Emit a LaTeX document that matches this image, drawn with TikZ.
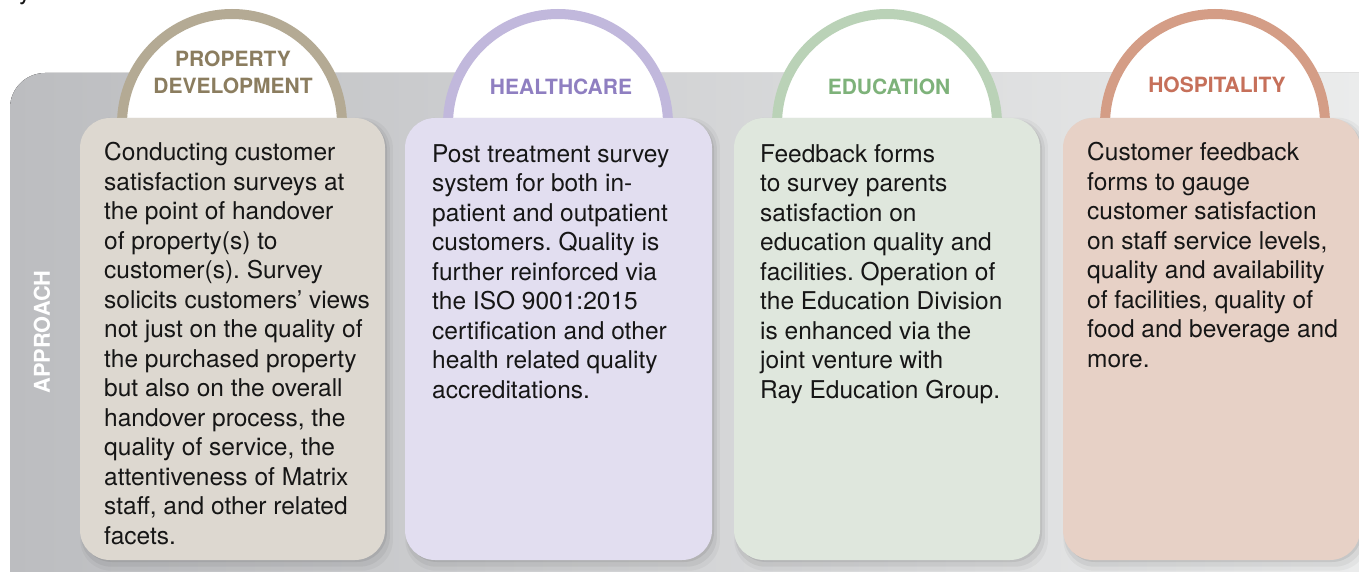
\documentclass[tikz,border=0pt]{standalone}
\usepackage{fontspec}
\setmainfont{TeX Gyre Heros}
\frenchspacing
\usetikzlibrary{shadows}
\definecolor{bgL}{RGB}{188,189,192}
\definecolor{bgR}{RGB}{237,238,238}
\definecolor{pdArc}{RGB}{180,170,148}
\definecolor{pdTxt}{RGB}{139,125,95}
\definecolor{pdCard}{RGB}{221,216,208}
\definecolor{hcArc}{RGB}{193,184,220}
\definecolor{hcTxt}{RGB}{143,127,193}
\definecolor{hcCard}{RGB}{226,222,240}
\definecolor{edArc}{RGB}{186,210,183}
\definecolor{edTxt}{RGB}{126,178,122}
\definecolor{edCard}{RGB}{223,231,221}
\definecolor{hoArc}{RGB}{212,157,134}
\definecolor{hoTxt}{RGB}{198,112,90}
\definecolor{hoCard}{RGB}{231,209,198}
\definecolor{bodyTxt}{RGB}{22,22,22}
\tikzset{
  ring/.style={line width=10pt, fill=white},
  card/.style={rounded corners=30pt, inner sep=0pt, minimum height=442pt,
    general shadow={fill=black, opacity=0.07, shadow xshift=2pt, shadow yshift=-2pt, shadow scale=1.0},
    general shadow={fill=black, opacity=0.05, shadow xshift=3pt, shadow yshift=-4pt, shadow scale=1.012},
    general shadow={fill=black, opacity=0.035, shadow xshift=4pt, shadow yshift=-5pt, shadow scale=1.025}},
  title/.style={font=\fontsize{21}{27}\selectfont\bfseries, inner sep=0pt, align=center},
  body/.style={font=\fontsize{24.5}{29.5}\selectfont, text=bodyTxt, inner sep=0pt, align=left, anchor=north west}
}
\begin{document}
\begin{tikzpicture}[x=1pt,y=-1pt]
\useasboundingbox (0,0) rectangle (1359,572);
\clip (0,0) rectangle (1359,572);
\fill[white] (0,0) rectangle (1359,572);
% fragment of text above
\node[anchor=base west, inner sep=0pt, font=\fontsize{24.5}{29.5}\selectfont, text=bodyTxt] (frag) at (19,0) {y};
% background panel
\fill[left color=bgL, right color=bgR, rounded corners=35pt] (10,73) rectangle (1420,640);
\node[rotate=90, text=white, font=\fontsize{21.8}{26}\selectfont\bfseries, inner sep=0pt] (approach) at (42,332) {APPROACH};
% rings
\draw[ring, draw=pdArc] (232,124) circle[radius=110pt];
\draw[ring, draw=hcArc] (558,124) circle[radius=110pt];
\draw[ring, draw=edArc] (887,124) circle[radius=110pt];
\draw[ring, draw=hoArc] (1215,124) circle[radius=110pt];
% cards
\node[card, fill=pdCard, minimum width=305pt] (pd) at (232.5,339) {};
\node[card, fill=hcCard, minimum width=307pt] (hc) at (558.5,339) {};
\node[card, fill=edCard, minimum width=306pt] (ed) at (887,339) {};
\node[card, fill=hoCard, minimum width=297pt] (ho) at (1211.5,339) {};
% titles
\node[title, text=pdTxt, anchor=north] (pdt) at (233,51) {PROPERTY\\DEVELOPMENT};
\node[title, text=hcTxt, anchor=base] (hct) at (561,95) {HEALTHCARE};
\node[title, text=edTxt, anchor=base] (edt) at (889,95) {EDUCATION};
\node[title, text=hoTxt, anchor=base] (hot) at (1217,93) {HOSPITALITY};
% bodies
\node[body] (pdb) at (104,142) {Conducting customer\\satisfaction surveys at\\the point of handover\\of property(s) to\\customer(s). Survey\\solicits customers’ views\\not just on the quality of\\the purchased property\\but also on the overall\\handover process, the\\quality of service, the\\attentiveness of Matrix\\staff, and other related\\facets.};
\node[body] (hcb) at (432,144.4) {Post treatment survey\\system for both in-\\patient and outpatient\\customers. Quality is\\further reinforced via\\the ISO 9001:2015\\certification and other\\health related quality\\accreditations.};
\node[body] (edb) at (760,144) {Feedback forms\\to survey parents\\satisfaction on\\education quality and\\facilities. Operation of\\the Education Division\\is enhanced via the\\joint venture with\\Ray Education Group.};
\node[body] (hob) at (1087,142) {Customer feedback\\forms to gauge\\customer satisfaction\\on staff service levels,\\quality and availability\\of facilities, quality of\\food and beverage and\\more.};
\end{tikzpicture}
\end{document}
